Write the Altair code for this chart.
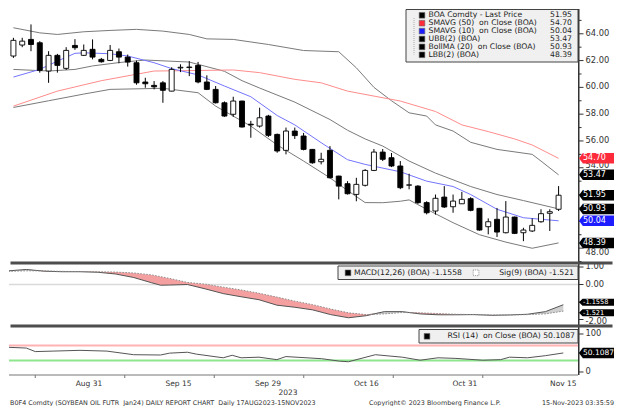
import altair as alt
import pandas as pd

FONT = "DejaVu Sans"
W = 569
H_P, H_M, H_R = 254, 63, 49
AX = "#333333"
RIGHT = 605  # keep everything inside the 607px wide page body

# ---------------- data ----------------
dates = [
    "2023-08-18", "2023-08-21", "2023-08-22", "2023-08-23", "2023-08-24", "2023-08-25",
    "2023-08-28", "2023-08-29", "2023-08-30", "2023-08-31", "2023-09-01",
    "2023-09-05", "2023-09-06", "2023-09-07", "2023-09-08",
    "2023-09-11", "2023-09-12", "2023-09-13", "2023-09-14", "2023-09-15",
    "2023-09-18", "2023-09-19", "2023-09-20", "2023-09-21", "2023-09-22",
    "2023-09-25", "2023-09-26", "2023-09-27", "2023-09-28", "2023-09-29",
    "2023-10-02", "2023-10-03", "2023-10-04", "2023-10-05", "2023-10-06",
    "2023-10-09", "2023-10-10", "2023-10-11", "2023-10-12", "2023-10-13",
    "2023-10-16", "2023-10-17", "2023-10-18", "2023-10-19", "2023-10-20",
    "2023-10-23", "2023-10-24", "2023-10-25", "2023-10-26", "2023-10-27",
    "2023-10-30", "2023-10-31", "2023-11-01", "2023-11-02", "2023-11-03",
    "2023-11-06", "2023-11-07", "2023-11-08", "2023-11-09", "2023-11-10",
    "2023-11-13", "2023-11-14", "2023-11-15"]

opens = [62.34, 63.16, 63.58, 63.33, 61.22, 62.39, 61.42, 63.13, 62.39, 62.84,
         62.09, 62.01, 62.66, 62.26, 61.84, 60.40, 60.15, 60.34, 59.72, 61.45,
         61.48, 61.64, 60.40, 59.85, 58.85, 57.99, 58.98, 57.25, 57.11, 57.86,
         56.49, 55.30, 56.74, 56.37, 55.37, 54.45, 55.30, 53.38, 52.81, 52.01,
         52.69, 53.80, 55.17, 54.75, 54.13, 52.70, 52.63, 51.40, 50.77, 51.81,
         51.09, 51.31, 51.69, 50.97, 49.60, 50.15, 49.15, 50.32, 49.15, 49.28,
         49.97, 50.60, 50.90]
highs = [63.70, 63.70, 64.70, 63.45, 62.70, 62.50, 63.00, 63.60, 63.20, 63.58,
         62.20, 63.16, 62.90, 62.45, 62.00, 60.72, 60.47, 60.47, 61.50, 61.72,
         61.96, 61.90, 60.90, 60.10, 58.95, 59.30, 59.00, 57.50, 58.48, 57.95,
         56.55, 57.00, 57.00, 56.60, 55.40, 55.12, 55.62, 53.40, 53.00, 53.25,
         53.90, 55.40, 55.40, 55.10, 54.50, 53.55, 52.70, 51.50, 52.00, 52.63,
         52.00, 52.20, 51.80, 51.00, 50.22, 51.00, 51.51, 50.35, 49.52, 50.22,
         50.90, 50.90, 52.63]
lows = [62.20, 63.00, 62.70, 61.10, 60.34, 61.10, 61.30, 62.80, 62.34, 62.09,
        61.85, 61.96, 61.80, 61.55, 60.20, 59.97, 59.85, 58.85, 59.70, 61.14,
        60.84, 60.30, 59.80, 58.80, 57.80, 57.80, 57.00, 56.24, 57.00, 56.30,
        55.12, 55.00, 56.15, 55.30, 54.30, 54.25, 53.20, 51.64, 52.00, 51.50,
        52.60, 53.75, 54.50, 54.05, 52.40, 52.39, 51.30, 50.52, 50.50, 51.00,
        50.64, 51.30, 50.75, 49.30, 49.03, 48.83, 49.10, 49.05, 48.52, 49.20,
        49.90, 49.28, 50.77]
closes = [63.51, 63.45, 63.20, 61.27, 62.39, 61.64, 62.76, 62.96, 62.76, 62.26,
          61.91, 62.76, 62.26, 61.89, 60.34, 60.27, 60.04, 59.78, 61.34, 61.50,
          61.52, 60.40, 59.85, 58.85, 57.86, 58.98, 57.04, 57.20, 57.73, 56.42,
          55.25, 56.74, 56.40, 55.37, 54.37, 54.63, 53.25, 52.63, 52.06, 52.76,
          53.80, 55.17, 54.63, 54.13, 52.51, 52.72, 51.39, 50.64, 51.72, 51.07,
          51.51, 51.64, 50.82, 49.35, 49.97, 49.20, 50.32, 49.10, 49.35, 49.70,
          50.57, 50.72, 51.95]

# overlay lines (bar index, value)
ubb_i = [0, 3, 5, 8, 11, 14, 17, 20, 22, 25, 29, 33, 37, 39, 41, 43, 45, 47, 48, 50, 52, 55, 59, 60, 62]
ubb_v = [64.45, 64.07, 63.95, 64.15, 64.25, 64.33, 64.20, 63.95, 63.62, 63.58, 63.20, 62.75, 62.66,
         61.46, 60.00, 59.00, 58.10, 57.86, 57.20, 56.74, 55.90, 55.37, 55.00, 54.50, 53.47]
bma_i = [0, 4, 7, 9, 12, 15, 20, 24, 26, 28, 32, 36, 38, 40, 42, 45, 48, 52, 55, 58, 62]
bma_v = [61.34, 61.22, 61.34, 61.60, 61.85, 62.04, 61.89, 61.20, 60.50, 59.95, 58.90, 57.60, 56.80,
         56.15, 55.62, 54.50, 53.60, 52.60, 52.00, 51.55, 50.93]
lbb_i = [0, 4, 8, 11, 17, 21, 23, 27, 30, 33, 36, 38, 40, 42, 44, 45, 47, 50, 53, 56, 59, 62]
lbb_v = [58.50, 59.00, 59.50, 59.85, 59.93, 59.60, 58.60, 57.11, 55.70, 54.50, 53.25, 52.30, 51.40,
         51.39, 51.50, 51.60, 50.90, 49.90, 49.00, 48.45, 47.99, 48.39]
sma50_i = [0, 5, 10, 16, 20, 25, 28, 32, 35, 38, 44, 48, 51, 54, 57, 59, 62]
sma50_v = [58.60, 59.72, 60.50, 61.22, 61.25, 61.30, 61.10, 60.60, 60.34, 59.72, 58.98, 58.20, 57.20,
           56.70, 56.15, 55.70, 54.70]
sma10_i = [0, 3, 5, 7, 8, 11, 13, 16, 18, 21, 24, 27, 30, 32, 35, 38, 40, 44, 47, 50, 52, 55, 58, 62]
sma10_v = [60.77, 61.34, 61.96, 62.54, 62.58, 62.51, 62.34, 61.84, 61.40, 60.93, 60.10, 59.30, 57.90,
           57.20, 55.87, 54.60, 54.25, 53.70, 53.00, 52.60, 52.00, 50.90, 50.27, 50.04]

macd_i = [0, 2, 4, 6, 8, 10, 12, 14, 16, 17, 18, 20, 22, 24, 26, 28, 30, 32, 34, 36, 38, 40, 42, 44,
          46, 48, 50, 52, 54, 56, 58, 60, 62]
macd_v = [0.78, 0.86, 0.76, 0.73, 0.73, 0.70, 0.60, 0.40, 0.10, -0.04, -0.03, 0.00, -0.25, -0.52,
          -0.70, -0.87, -1.18, -1.30, -1.45, -1.72, -1.90, -1.78, -1.55, -1.55, -1.68, -1.73, -1.73,
          -1.72, -1.76, -1.74, -1.70, -1.55, -1.1558]
sig_v = [0.75, 0.78, 0.78, 0.75, 0.74, 0.73, 0.71, 0.66, 0.55, 0.45, 0.35, 0.12, 0.02, -0.15, -0.31,
         -0.50, -0.72, -0.95, -1.15, -1.40, -1.62, -1.72, -1.68, -1.60, -1.62, -1.66, -1.70, -1.72,
         -1.74, -1.74, -1.72, -1.68, -1.521]

rsi_i = [0, 2, 3, 5, 8, 11, 14, 17, 18, 20, 21, 24, 25, 26, 28, 30, 31, 35, 37, 38, 41, 44, 46, 48,
         50, 53, 55, 56, 58, 60, 62]
rsi_v = [65.0, 63.0, 53.7, 55.0, 57.0, 55.0, 45.5, 44.7, 49.6, 52.0, 47.0, 37.4, 44.0, 37.4, 39.0,
         32.5, 40.6, 35.0, 28.5, 27.0, 45.5, 39.0, 31.0, 37.4, 35.8, 31.0, 32.5, 39.0, 37.4, 43.0, 50.1087]

tick_dates = ["2023-08-31", "2023-09-15", "2023-09-29", "2023-10-16", "2023-10-31", "2023-11-15"]
tick_labels = ["Aug 31", "Sep 15", "Sep 29", "Oct 16", "Oct 31", "Nov 15"]
minor_tick_dates = ["2023-08-23", "2023-09-07", "2023-09-21", "2023-10-05", "2023-10-19", "2023-11-02"]

price_ticks = list(range(47, 66))
price_labels = [48, 54, 56, 58, 60, 62, 64]       # 50.00 and 52.00 sit fully behind value tags
price_major = [48, 50, 52, 54, 56, 58, 60, 62, 64]
macd_ticks = [-2, -1, 0, 1]
macd_labels = [-2, 0, 1]
rsi_ticks = [0, 50, 100]
rsi_labels = [0, 100]

price_tags = [54.70, 53.47, 51.95, 50.93, 50.04, 48.39]
price_tag_colors = ["#ff2b3b", "#000000", "#000000", "#000000", "#1c1cff", "#000000"]

legend_labels = ["BOA Comdty - Last Price", "SMAVG (50)\u00a0 on Close (BOA)", "SMAVG (10)\u00a0 on Close (BOA)",
                 "UBB(2) (BOA)", "BollMA (20)\u00a0 on Close (BOA)", "LBB(2) (BOA)"]
legend_values = ["51.95", "54.70", "50.04", "53.47", "50.93", "48.39"]
legend_colors = ["#000000", "#ff2b3b", "#1c1cff", "#000000", "#000000", "#000000"]

macd_last, sig_last, rsi_last = -1.1558, -1.521, 50.1087

footer_left = "B0F4 Comdty (SOYBEAN OIL FUTR\u00a0 Jan24) DAILY REPORT CHART\u00a0 Daily 17AUG2023-15NOV2023"
footer_mid = "Copyright\u00a9 2023 Bloomberg Finance L.P."
footer_right = "15-Nov-2023 03:35:59"

# ---------------- frames ----------------
n = len(dates)
cdf = pd.DataFrame({"i": list(range(n)), "date": dates, "open": opens, "high": highs,
                    "low": lows, "close": closes})

names = ["UBB", "BollMA", "LBB", "SMA50", "SMA10"]
cols = ["#7a7a7a", "#7a7a7a", "#7a7a7a", "#ff8c8c", "#7474ff"]
ldf = pd.concat([
    pd.DataFrame({"i": ubb_i, "v": ubb_v, "s": "UBB"}),
    pd.DataFrame({"i": bma_i, "v": bma_v, "s": "BollMA"}),
    pd.DataFrame({"i": lbb_i, "v": lbb_v, "s": "LBB"}),
    pd.DataFrame({"i": sma50_i, "v": sma50_v, "s": "SMA50"}),
    pd.DataFrame({"i": sma10_i, "v": sma10_v, "s": "SMA10"}),
])
mdf = pd.DataFrame({"i": macd_i, "macd": macd_v, "sig": sig_v})
rdf = pd.DataFrame({"i": rsi_i, "rsi": rsi_v})
one = pd.DataFrame({"a": [0]})

xlab_df = pd.DataFrame({"i": [dates.index(d) for d in tick_dates], "lab": tick_labels})
minor_df = pd.DataFrame({"i": [dates.index(d) for d in minor_tick_dates]})

xs = alt.Scale(domain=[0.067, 63.64], nice=False, zero=False)
ysp = alt.Scale(domain=[46.89, 65.85], nice=False, zero=False)
ysm = alt.Scale(domain=[-2.371, 1.229], nice=False, zero=False)
ysr = alt.Scale(domain=[-7.9, 121.05], nice=False, zero=False)

TAG_SHAPE = "M-1,0 L-0.78,-0.3 L1,-0.3 L1,0.3 L-0.78,0.3 Z"
SMALL_TAG_SHAPE = "M-1,0 L-0.8,-0.2 L1,-0.2 L1,0.2 L-0.8,0.2 Z"


def X(field="i"):
    return alt.X(f"{field}:Q", scale=xs, axis=None)


def Y(field, scale):
    return alt.Y(f"{field}:Q", scale=scale, axis=None)


def right_axis(height, ticks, labels, scale, fmt, major, nudge=None):
    """Right-hand value axis drawn with marks: spine, ticks and labels."""
    major = set(major)
    nudge = nudge or {}
    tdf = pd.DataFrame({"t": ticks, "maj": [t in major for t in ticks]})
    spine = alt.Chart(one).mark_rule(color=AX, strokeWidth=1.5).encode(
        x=alt.value(W + 0.75), y=alt.value(0), y2=alt.value(height))
    tk_major = alt.Chart(tdf[tdf["maj"]]).mark_rule(color=AX, strokeWidth=1).encode(
        x=alt.value(W + 1), x2=alt.value(W + 5.5), y=Y("t", scale))
    layers = [spine, tk_major]
    if (~tdf["maj"]).any():
        layers.append(alt.Chart(tdf[~tdf["maj"]]).mark_rule(color=AX, strokeWidth=1).encode(
            x=alt.value(W + 1), x2=alt.value(W + 3.5), y=Y("t", scale)))
    for v in labels:
        d = pd.DataFrame({"t": [v]})
        layers.append(alt.Chart(d).mark_text(align="left", baseline="middle", font=FONT, fontSize=8.3,
                                             color=AX, text=format(v, fmt), dy=nudge.get(v, 0)).encode(
            x=alt.value(W + 7.5), y=Y("t", scale)))
    return layers


def tag_layers(values, colors, labels, yscale, size=1225, fsize=8, dys=None, shape=TAG_SHAPE):
    dys = dys or [0] * len(values)
    out = []
    for v, c, lab, dy in zip(values, colors, labels, dys):
        d = pd.DataFrame({"v": [v]})
        out.append(alt.Chart(d).mark_point(shape=shape, filled=True, size=size, opacity=1,
                                           strokeWidth=0, fill=c, yOffset=dy).encode(
            x=alt.value(W + 18.5), y=Y("v", yscale)))
        out.append(alt.Chart(d).mark_text(align="left", baseline="middle", color="white", font=FONT,
                                          fontSize=fsize, text=lab, dy=dy).encode(
            x=alt.value(W + 5), y=Y("v", yscale)))
    return out


def txt(s, x, y, align="left", size=7.7, color="#222222"):
    return alt.Chart(one).mark_text(align=align, baseline="middle", font=FONT, fontSize=size,
                                    color=color, text=s).encode(x=alt.value(x), y=alt.value(y))


def box(x1, x2, y1, y2):
    return alt.Chart(one).mark_rect(fill="#f0f0f0", stroke="#444444", strokeWidth=1).encode(
        x=alt.value(x1), x2=alt.value(x2), y=alt.value(y1), y2=alt.value(y2))


def square(x, y, color, filled=True):
    kw = dict(shape="square", filled=filled, size=32, opacity=1)
    if filled:
        kw.update(fill=color, stroke="#666666", strokeWidth=0.6)
    else:
        kw.update(stroke=color, strokeWidth=0.8, strokeDash=[1, 1], fill="white")
    return alt.Chart(one).mark_point(**kw).encode(x=alt.value(x), y=alt.value(y))


def hline(y, color, width, x1=0, x2=W):
    return alt.Chart(one).mark_rule(color=color, strokeWidth=width).encode(
        x=alt.value(x1), x2=alt.value(x2), y=y)


def separator():
    return hline(alt.value(0), "#4d4d4d", 3, 1.5, RIGHT - 1.5)


# ---------------- price panel ----------------
lines = alt.Chart(ldf).mark_line(strokeWidth=1, clip=True).encode(
    x=X(), y=Y("v", ysp),
    color=alt.Color("s:N", scale=alt.Scale(domain=names, range=cols), legend=None),
    detail="s:N")
wicks = alt.Chart(cdf).mark_rule(color="black", strokeWidth=1, clip=True).encode(
    x=X(), y=Y("low", ysp), y2="high:Q")
bodies = alt.Chart(cdf).mark_bar(size=5, stroke="black", strokeWidth=0.9, clip=True).encode(
    x=X(), y=Y("open", ysp), y2="close:Q",
    fill=alt.condition("datum.close >= datum.open", alt.value("white"), alt.value("black")))

legend_layers = [box(397, W, 0.5, 53),
                 alt.Chart(one).mark_rule(color="#9a9a9a", strokeWidth=0.8, strokeDash=[1, 1]).encode(
                     x=alt.value(405), y=alt.value(9), y2=alt.value(45.5))]
for k, (lab, val, col) in enumerate(zip(legend_labels, legend_values, legend_colors)):
    ry = 6.3 + 7.9 * k
    legend_layers += [square(413, ry, col), txt(lab, 419.5, ry), txt(val, 563, ry, align="right")]

price = alt.layer(
    lines, wicks, bodies,
    *right_axis(H_P, price_ticks, price_labels, ysp, ".2f", price_major, nudge={48: 4.5, 54: -1.5}),
    *tag_layers(price_tags, price_tag_colors, [f"{v:.2f}" for v in price_tags], ysp),
    *legend_layers,
).properties(width=W, height=H_P)

# ---------------- MACD panel ----------------
mbase = alt.Chart(mdf).transform_calculate(top="max(datum.macd, datum.sig)")
zero_line = hline(alt.Y(datum=0, scale=ysm, axis=None), "#d9d9d9", 1.5)
pink = mbase.mark_area(color="#f5a0a0", clip=True).encode(x=X(), y=Y("macd", ysm), y2="top:Q")
grayfill = mbase.mark_area(color="#cfcfcf", clip=True).encode(x=X(), y=Y("sig", ysm), y2="top:Q")
macd_line = mbase.mark_line(color="#555555", strokeWidth=1, clip=True).encode(x=X(), y=Y("macd", ysm))
sig_line = mbase.mark_line(color="#8c8c8c", strokeWidth=1, strokeDash=[1.5, 1.5], clip=True).encode(
    x=X(), y=Y("sig", ysm))

macd = alt.layer(
    zero_line, pink, grayfill, macd_line, sig_line,
    *right_axis(H_M, macd_ticks, macd_labels, ysm, ".2f", macd_ticks, nudge={-2: 2.5}),
    *tag_layers([macd_last, sig_last], ["#000000", "#000000"],
                [f"{macd_last:.4f}", f"{sig_last:.3f}"], ysm, size=1225, fsize=6.6,
                dys=[-2.5, 1.5], shape=SMALL_TAG_SHAPE),
    box(329, W, 3, 16.5),
    square(339, 9.8, "#000000"),
    txt("MACD(12,26) (BOA) " + f"{macd_last:.4f}", 345, 9.8),
    square(467, 9.8, "#777777", filled=False),
    txt("Sig(9) (BOA) " + f"{sig_last:.3f}", 565, 9.8, align="right"),
    separator(),
).properties(width=W, height=H_M)

# ---------------- RSI panel ----------------
x_domain_line = hline(alt.value(H_R), "#777777", 1)
x_minor = alt.Chart(minor_df).mark_rule(color="#777777", strokeWidth=1).encode(
    x=X(), y=alt.value(H_R), y2=alt.value(H_R + 3))
x_labels = alt.Chart(xlab_df).mark_text(align="center", baseline="middle", font=FONT, fontSize=7.5,
                                        color=AX).encode(x=X(), y=alt.value(H_R + 9), text="lab:N")
r70 = hline(alt.Y(datum=70, scale=ysr, axis=None), "#ffb3b3", 2)
r30 = hline(alt.Y(datum=30, scale=ysr, axis=None), "#8ee68e", 2)
rsi_line = alt.Chart(rdf).mark_line(color="#555555", strokeWidth=1, clip=True).encode(
    x=X(), y=Y("rsi", ysr))

rsi = alt.layer(
    r70, r30, rsi_line, x_domain_line, x_minor, x_labels,
    *right_axis(H_R, rsi_ticks, rsi_labels, ysr, "d", rsi_ticks),
    *tag_layers([rsi_last], ["#000000"], [f"{rsi_last:.4f}"], ysr, fsize=7.5),
    box(410, W, 3.5, 17),
    square(418, 10.3, "#000000"),
    txt("RSI (14)\u00a0 on Close (BOA) " + f"{rsi_last:.4f}", 566, 10.3, align="right"),
    txt("2023", 279, 66.5, align="center", size=7.5, color=AX),
    txt(footer_left, 1, 76.5, size=6.4, color="#333333"),
    txt(footer_mid, 360, 76.5, size=6.4, color="#333333"),
    txt(footer_right, RIGHT, 76.5, align="right", size=6.4, color="#333333"),
    separator(),
).properties(width=W, height=H_R)

chart = alt.vconcat(price, macd, rsi, spacing=0, bounds="flush").properties(
    padding={"left": 0, "top": 0, "right": 0, "bottom": 0}, background="white"
).configure_view(stroke=None)

chart.save("out.html", embed_options={"renderer": "svg", "actions": False})
